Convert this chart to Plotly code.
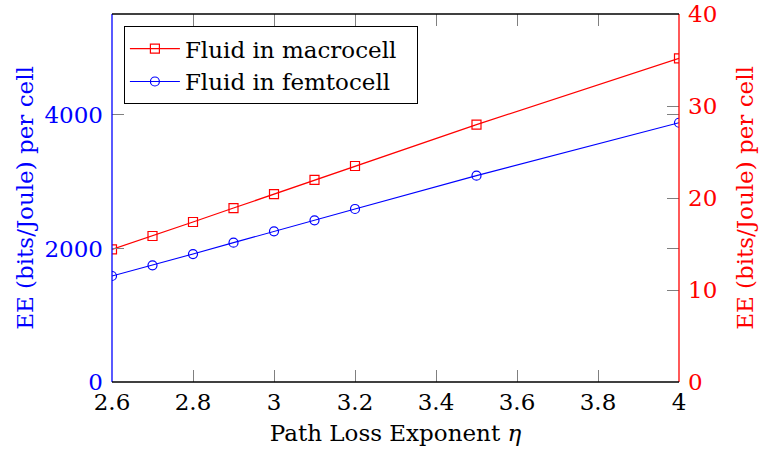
import plotly.graph_objects as go

# Path loss exponent values
eta = [2.6, 2.7, 2.8, 2.9, 3.0, 3.1, 3.2, 3.5, 4.0]
# Energy efficiency per cell (bits/Joule)
ee_femto = [1588, 1748, 1917, 2087, 2257, 2422, 2592, 3091, 3884]   # left axis
ee_macro = [14.42, 15.87, 17.39, 18.91, 20.43, 21.96, 23.48, 27.97, 35.18]  # right axis

x_ticks = [2.6, 2.8, 3.0, 3.2, 3.4, 3.6, 3.8, 4.0]
x_ticktext = ["2.6", "2.8", "3", "3.2", "3.4", "3.6", "3.8", "4"]
y1_ticks = [0, 2000, 4000]
y2_ticks = [0, 10, 20, 30, 40]

FONT = "DejaVu Serif"
FS = 23
BLUE = "#0000ff"
RED = "#ff0000"
TICKC = "#808080"

fig = go.Figure()
fig.add_trace(go.Scatter(
    x=eta, y=ee_macro, yaxis="y2", name="Fluid in macrocell  ",
    mode="lines+markers",
    line=dict(color=RED, width=1.2),
    marker=dict(symbol="square-open", size=9, color=RED, line=dict(width=1.2)),
))
fig.add_trace(go.Scatter(
    x=eta, y=ee_femto, name="Fluid in femtocell",
    mode="lines+markers",
    line=dict(color=BLUE, width=1.2),
    marker=dict(symbol="circle-open", size=9, color=BLUE, line=dict(width=1.2)),
))

frame = [
    dict(x0=0, x1=0, y0=0, y1=1, color=BLUE),
    dict(x0=1, x1=1, y0=0, y1=1, color=RED),
    dict(x0=0, x1=1, y0=0, y1=0, color="black"),
    dict(x0=0, x1=1, y0=1, y1=1, color="black"),
]
shapes = [dict(type="line", xref="paper", yref="paper",
               x0=f["x0"], x1=f["x1"], y0=f["y0"], y1=f["y1"],
               line=dict(color=f["color"], width=1.3), layer="above")
          for f in frame]

fig.update_layout(
    width=759, height=452,
    margin=dict(l=112, r=80, t=14, b=70, autoexpand=False),
    paper_bgcolor="white", plot_bgcolor="white",
    font=dict(family=FONT, size=FS, color="black"),
    showlegend=True,
    legend=dict(x=0.021, y=0.967, xanchor="left", yanchor="top",
                bordercolor="black", borderwidth=1, bgcolor="white",
                font=dict(family=FONT, size=FS), tracegroupgap=0,
                itemwidth=50),
    shapes=shapes,
    xaxis=dict(
        range=[2.6, 4.0], tickvals=x_ticks, ticktext=x_ticktext,
        ticks="inside", ticklen=12, tickcolor=TICKC, tickwidth=1,
        mirror="ticks", showline=False, showgrid=False, zeroline=False,
        automargin=False, ticklabelstandoff=4,
        tickfont=dict(family=FONT, size=FS, color="black"),
        title=dict(text="Path Loss Exponent <i>η</i>", standoff=10,
                   font=dict(family=FONT, size=FS, color="black")),
    ),
    yaxis=dict(
        range=[0, 5513], tickvals=y1_ticks,
        ticks="inside", ticklen=12, tickcolor=TICKC, tickwidth=1,
        mirror="ticks", showline=False, showgrid=False, zeroline=False,
        automargin=False, ticklabelstandoff=8,
        tickfont=dict(family=FONT, size=FS, color=BLUE),
        title=dict(text="EE (bits/Joule) per cell", standoff=4,
                   font=dict(family=FONT, size=FS, color=BLUE)),
    ),
    yaxis2=dict(
        range=[0, 40], tickvals=y2_ticks, overlaying="y", side="right",
        ticks="inside", ticklen=12, tickcolor=TICKC, tickwidth=1,
        showline=False, showgrid=False, zeroline=False,
        automargin=False, ticklabelstandoff=8,
        tickfont=dict(family=FONT, size=FS, color=RED),
        title=dict(text="EE (bits/Joule) per cell", standoff=20,
                   font=dict(family=FONT, size=FS, color=RED)),
    ),
)

fig.write_html("out.html")
